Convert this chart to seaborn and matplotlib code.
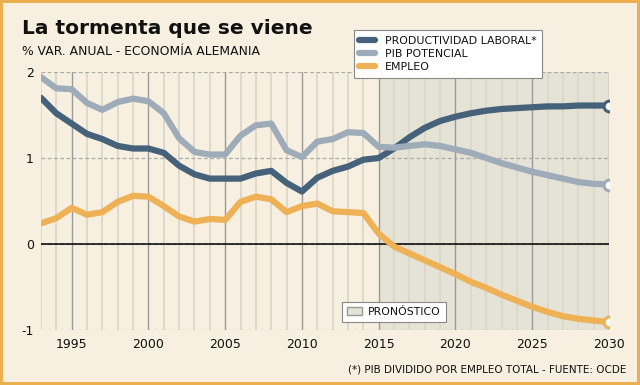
import numpy as np
import pandas as pd
import seaborn as sns
import matplotlib.pyplot as plt
from matplotlib.lines import Line2D
from matplotlib.patches import Patch

# datos (% var. anual)
anios = list(range(1993, 2031))
productividad = [1.70, 1.52, 1.40, 1.28, 1.22, 1.14, 1.11, 1.11, 1.06, 0.91,
                 0.81, 0.76, 0.76, 0.76, 0.82, 0.85, 0.71, 0.61, 0.77, 0.85,
                 0.90, 0.98, 1.00, 1.11, 1.24, 1.35, 1.43, 1.48, 1.52, 1.55,
                 1.57, 1.58, 1.59, 1.60, 1.60, 1.61, 1.61, 1.61]
pib_potencial = [1.94, 1.81, 1.80, 1.64, 1.56, 1.65, 1.69, 1.66, 1.52, 1.23,
                 1.07, 1.04, 1.04, 1.26, 1.38, 1.40, 1.09, 1.01, 1.19, 1.22,
                 1.30, 1.29, 1.13, 1.12, 1.14, 1.16, 1.14, 1.10, 1.06, 1.00,
                 0.94, 0.89, 0.84, 0.80, 0.76, 0.72, 0.70, 0.69]
empleo = [0.24, 0.30, 0.42, 0.34, 0.37, 0.49, 0.56, 0.55, 0.44, 0.32,
          0.26, 0.29, 0.28, 0.49, 0.55, 0.52, 0.37, 0.44, 0.47, 0.38,
          0.37, 0.36, 0.12, -0.03, -0.11, -0.19, -0.27, -0.35, -0.44, -0.51,
          -0.59, -0.66, -0.73, -0.79, -0.84, -0.87, -0.89, -0.91]
series = ["PRODUCTIVIDAD LABORAL*", "PIB POTENCIAL", "EMPLEO"]
colores = ["#46617a", "#9eabb9", "#eeb156"]
inicio_pronostico = 2015
yticks = [-1, 0, 1, 2]
xticks = [1995, 2000, 2005, 2010, 2015, 2020, 2025, 2030]

fondo = "#f7f0e1"
sombra = "#e5e3d5"

df = pd.DataFrame({"anio": anios * 3,
                   "valor": productividad + pib_potencial + empleo,
                   "serie": [s for s in series for _ in anios]})

sns.set_style("white")
plt.rcParams["font.family"] = ["DejaVu Sans"]
plt.rcParams["axes.unicode_minus"] = False
plt.rcParams["text.color"] = "#111111"

fig = plt.figure(figsize=(6.4, 3.85), dpi=100, facecolor=fondo)
fig.patch.set_edgecolor("#ebb04d")
fig.patch.set_linewidth(3)
ax = fig.add_axes([0.064, 0.143, 0.8875, 0.670])
ax.set_facecolor(fondo)

ax.axvspan(inicio_pronostico, anios[-1], color=sombra, zorder=0, lw=0)

sns.lineplot(data=df, x="anio", y="valor", hue="serie", palette=colores,
             hue_order=series, linewidth=4.5, legend=False, ax=ax,
             solid_joinstyle="round", solid_capstyle="round", zorder=3)

# circulos al final de cada serie
for vals, c in zip([productividad, pib_potencial, empleo], colores):
    ax.scatter([anios[-1]], [vals[-1]], s=60, facecolor="white",
               edgecolor=c, linewidth=2.2, zorder=4)

ax.set_xlim(anios[0], anios[-1])
ax.set_ylim(-1, 2)
ax.set_xticks(xticks)
ax.set_xticks(anios, minor=True)
ax.set_yticks(yticks)
ax.set_axisbelow(True)
ax.grid(axis="x", which="minor", color="#dcd7cb", lw=1.3)
ax.grid(axis="x", which="major", color="#9a9a9a", lw=1.0)
ax.grid(axis="y", which="major", color="#aaaaaa", lw=0.9, ls=(0, (3, 2)))
ax.axhline(0, color="black", lw=1.1, zorder=2)
for s in ax.spines.values():
    s.set_visible(False)
ax.tick_params(length=0, labelsize=9, pad=5, labelcolor="#111111")
ax.tick_params(axis="x", pad=6)
ax.set_xlabel("")
ax.set_ylabel("")

fig.text(0.034, 0.925, "La tormenta que se viene", fontsize=14.5,
         fontweight="bold", va="center")
fig.text(0.034, 0.866, "% VAR. ANUAL - ECONOMÍA ALEMANIA", fontsize=8.9,
         va="center")
fig.text(0.978, 0.04, "(*) PIB DIVIDIDO POR EMPLEO TOTAL - FUENTE: OCDE",
         fontsize=7.5, ha="right", va="center")

handles = [Line2D([], [], color=c, lw=4.5, solid_capstyle="round") for c in colores]
leg = fig.legend(handles, series, loc="upper left",
                 bbox_to_anchor=(0.553, 0.922), fontsize=7.9, frameon=True,
                 fancybox=False, edgecolor="#888888", framealpha=1,
                 handlelength=1.4, handletextpad=0.9, labelspacing=0.3,
                 borderpad=0.5, borderaxespad=0)
leg.get_frame().set_linewidth(0.8)

leg2 = fig.legend([Patch(facecolor=sombra, edgecolor="#999999")], ["PRONÓSTICO"],
                  loc="upper left", bbox_to_anchor=(0.534, 0.216), fontsize=7.8,
                  frameon=True, fancybox=False, edgecolor="#888888", framealpha=1,
                  handlelength=1.4, handletextpad=0.6, borderpad=0.45,
                  borderaxespad=0)
leg2.get_frame().set_linewidth(0.8)

plt.savefig("out.png", dpi=100, facecolor=fondo)
